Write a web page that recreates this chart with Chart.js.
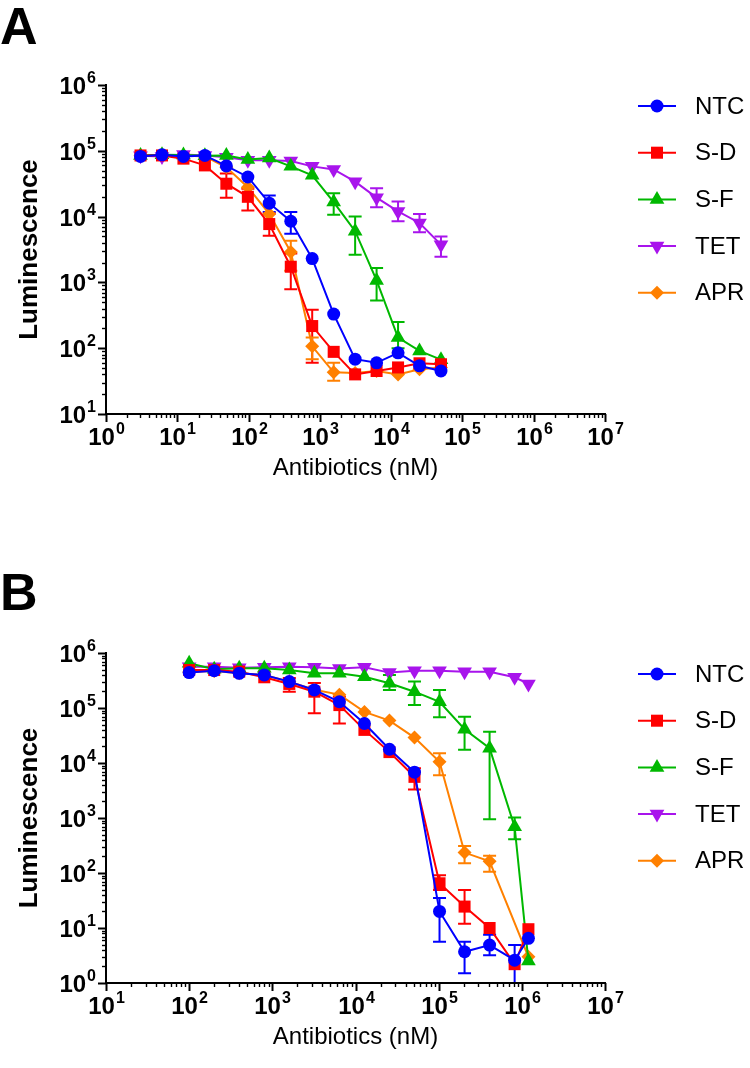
<!DOCTYPE html>
<html>
<head>
<meta charset="utf-8">
<script src="https://cdn.jsdelivr.net/npm/chart.js@4.4.1/dist/chart.umd.min.js"></script>
<style>
  body { margin: 0; background: #fff; width: 750px; height: 1068px; position: relative; overflow: hidden; }
  .panel { position: absolute; left: 0; width: 750px; height: 534px; }
  .tag { position: absolute; left: 0; font: bold 52px "Liberation Sans", Arial, sans-serif; line-height: 1; z-index: 2; }
</style>
</head>
<body>
<div class="tag" style="top:0">A</div>
<div class="tag" style="top:566px">B</div>
<div class="panel" style="top:0"><canvas id="chartA" width="750" height="534"></canvas></div>
<div class="panel" style="top:534px"><canvas id="chartB" width="750" height="534"></canvas></div>
<script>
// ---- data ----
const seriesNames = ['NTC', 'S-D', 'S-F', 'TET', 'APR'];

// panel A, antibiotic concentration (nM)
const concA = [3.05, 6.1, 12.2, 24.4, 48.8, 97.7, 195, 391, 781, 1563, 3125, 6250, 12500, 25000, 50000];
const ntcA = [82000, 87000, 82000, 85000, 59000, 40000, 16000, 8500, 2300, 330, 68, 60, 85, 54, 45];
const sdA  = [85000, 85000, 76000, 60000, 31600, 20000, 7700, 1730, 217, 88, 40, 45, 51, 59, 57];
const sfA  = [85000, 87000, 86000, 84000, 85000, 73500, 77500, 58000, 42400, 16600, 6000, 1070, 145, 91, 67];
const tetA = [84000, 82000, 88000, 85000, 80000, 72000, 72000, 70000, 58000, 52000, 34000, 19400, 12000, 8000, 3750];
const aprA = [85000, 87000, 85000, 82000, 56000, 28000, 11000, 2900, 107, 43, 42, 45, 40, 48, 51];
// error bar ends [low, high], null = no visible bar
const ntcErrA = [null, null, null, null, null, null, [11700, 21000], [5500, 11700], null, null, null, null, null, null, null];
const sdErrA  = [null, null, null, null, [19400, 45000], [12400, 26500], [5100, 11100], [790, 2760], [60, 385], null, null, null, null, null, null];
const sfErrA  = [null, null, null, null, null, null, null, null, null, [10700, 22700], [2640, 10000], [530, 1660], [100, 250], null, null];
const tetErrA = [null, null, null, null, null, null, null, null, null, null, null, [13900, 27000], [8500, 17000], [5800, 11000], [2450, 5000]];
const aprErrA = [null, null, null, null, null, null, null, [1500, 4300], [68, 145], [32, 60], null, null, null, null, null];

// panel B
const concB = [100, 200, 400, 800, 1600, 3200, 6400, 12800, 25600, 51200, 102400, 204800, 409600, 819200, 1200000];
const ntcB = [440000, 476000, 427000, 398000, 302000, 213000, 130000, 52300, 17800, 6800, 20, 3.7, 4.9, 2.6, 6.5];
const sdB  = [490000, 490000, 458000, 362000, 274000, 198000, 113000, 40000, 15800, 5600, 65, 24.5, 10, 2.2, 9.5];
const sfB  = [650000, 505000, 527000, 527000, 490000, 427000, 427000, 371000, 281000, 198000, 130000, 41000, 18600, 690, 2.5];
const tetB = [560000, 560000, 540000, 550000, 564000, 550000, 520000, 550000, 440000, 476000, 476000, 458000, 458000, 362000, 274000];
const aprB = [450000, 470000, 430000, 400000, 300000, 215000, 175000, 85000, 59000, 29000, 10500, 235, 163, null, 3];
const ntcErrB = [null, null, null, null, null, null, null, null, null, null, [5.6, 35], [1.5, 5.6], [3.2, 7.5], [1, 4.9], null];
const sdErrB  = [null, null, null, null, [198000, 350000], [80000, 285000], [52000, 160000], null, null, [3300, 8000], [49, 91], [12, 49], null, null, null];
const sfErrB  = [null, null, null, null, null, null, null, null, [213000, 398000], [113000, 302000], [68000, 212000], [17400, 69000], [950, 37000], [410, 1020], null];
const tetErrB = [null, null, null, null, null, null, null, null, null, null, null, null, null, null, null];
const aprErrB = [null, null, null, null, null, null, null, null, null, null, [6000, 15000], [150, 310], [105, 205], null, null];

// ---- styles ----
const FONT = '"Liberation Sans", Arial, Helvetica, sans-serif';
const colors = ['#0000FF', '#FF0000', '#00B800', '#A814EC', '#FF8000'];
const shapes = ['circle', 'rect', 'triangle', 'triangle', 'rectRot'];
const radii = [6.5, 8.5, 8.5, 8.5, 7];
const rotations = [0, 0, 0, 180, 0];

function drawMarker(ctx, k, x, y) {
  ctx.fillStyle = colors[k];
  ctx.strokeStyle = colors[k];
  Chart.helpers.drawPoint(ctx, { pointStyle: shapes[k], rotation: rotations[k], radius: radii[k], borderWidth: 0 }, x, y);
}

function drawPow(ctx, exp, x, y, align) {
  // "10" with raised exponent; y is the vertical middle of "10"
  ctx.font = 'bold 24px ' + FONT;
  const wb = ctx.measureText('10').width;
  ctx.font = 'bold 16px ' + FONT;
  const ws = ctx.measureText(String(exp)).width;
  const total = wb + 1 + ws;
  let left = align === 'right' ? x - total : x - total / 2;
  ctx.fillStyle = '#000';
  ctx.textAlign = 'left';
  ctx.textBaseline = 'alphabetic';
  ctx.font = 'bold 24px ' + FONT;
  ctx.fillText('10', left, y + 8.5);
  ctx.font = 'bold 16px ' + FONT;
  ctx.fillText(String(exp), left + wb + 1, y - 2.5);
}

const errorBars = {
  id: 'errorBars',
  beforeDatasetsDraw(chart) {
    const ctx = chart.ctx, ys = chart.scales.y, xs = chart.scales.x;
    ctx.save();
    ctx.lineWidth = 2;
    chart.data.datasets.forEach((ds, k) => {
      ds.errors.forEach((e, i) => {
        if (!e) return;
        const x = xs.getPixelForValue(ds.data[i].x);
        const yl = ys.getPixelForValue(Math.max(e[0], ys.min));
        const yh = ys.getPixelForValue(e[1]);
        ctx.strokeStyle = colors[k];
        ctx.beginPath();
        ctx.moveTo(x, yl); ctx.lineTo(x, yh);
        ctx.moveTo(x - 6.5, yh); ctx.lineTo(x + 6.5, yh);
        if (e[0] > ys.min) { ctx.moveTo(x - 6.5, yl); ctx.lineTo(x + 6.5, yl); }
        ctx.stroke();
      });
    });
    ctx.restore();
  }
};

const prismAxes = {
  id: 'prismAxes',
  afterDraw(chart) {
    const ctx = chart.ctx, xs = chart.scales.x, ys = chart.scales.y, ca = chart.chartArea;
    ctx.save();
    ctx.strokeStyle = '#000';
    ctx.lineWidth = 2;
    ctx.beginPath();
    ctx.moveTo(ca.left, ca.top - 1);
    ctx.lineTo(ca.left, ca.bottom);
    ctx.lineTo(ca.right + 1, ca.bottom);
    ctx.stroke();

    // y ticks
    const ey0 = Math.round(Math.log10(ys.min)), ey1 = Math.round(Math.log10(ys.max));
    for (let e = ey0; e <= ey1; e++) {
      for (let m = 1; m <= 9; m++) {
        if (e === ey1 && m > 1) break;
        const py = Math.round(ys.getPixelForValue(m * Math.pow(10, e))) + 0.5;
        const len = m === 1 ? 8 : 4;
        ctx.lineWidth = m === 1 ? 2 : 1.4;
        ctx.beginPath(); ctx.moveTo(ca.left, py); ctx.lineTo(ca.left - len, py); ctx.stroke();
        if (m === 1) drawPow(ctx, e, ca.left - 10, py, 'right');
      }
    }
    // x ticks
    const ex0 = Math.round(Math.log10(xs.min)), ex1 = Math.round(Math.log10(xs.max));
    for (let e = ex0; e <= ex1; e++) {
      for (let m = 1; m <= 9; m++) {
        if (e === ex1 && m > 1) break;
        const px = Math.round(xs.getPixelForValue(m * Math.pow(10, e))) + 0.5;
        const len = m === 1 ? 8 : 4;
        ctx.lineWidth = m === 1 ? 2 : 1.4;
        ctx.beginPath(); ctx.moveTo(px, ca.bottom); ctx.lineTo(px, ca.bottom + len); ctx.stroke();
        if (m === 1) drawPow(ctx, e, px, ca.bottom + 22, 'center');
      }
    }

    // axis titles
    ctx.fillStyle = '#000';
    ctx.textAlign = 'center';
    ctx.textBaseline = 'middle';
    ctx.font = '24px ' + FONT;
    ctx.fillText('Antibiotics (nM)', (ca.left + ca.right) / 2, ca.bottom + 54);
    ctx.save();
    ctx.translate(30, (ca.top + ca.bottom) / 2);
    ctx.rotate(-Math.PI / 2);
    ctx.font = 'bold 26px ' + FONT;
    ctx.fillText('Luminescence', 0, 0);
    ctx.restore();

    // legend
    chart.data.datasets.forEach((ds, k) => {
      const ly = ca.top + 21 + k * 46.7;
      ctx.strokeStyle = colors[k];
      ctx.lineWidth = 2;
      ctx.beginPath(); ctx.moveTo(638, ly); ctx.lineTo(676, ly); ctx.stroke();
      drawMarker(ctx, k, 657, ly);
      ctx.fillStyle = '#000';
      ctx.font = '24px ' + FONT;
      ctx.textAlign = 'left';
      ctx.textBaseline = 'middle';
      ctx.fillText(ds.label, 695, ly + 1);
    });
    ctx.restore();
  }
};

function buildChart(id, conc, values, errors, xRange, yRange, padding) {
  const datasets = values.map((vals, k) => ({
    label: seriesNames[k],
    data: conc.map((c, i) => ({ x: c, y: vals[i] })),
    errors: errors[k],
    borderColor: colors[k],
    backgroundColor: colors[k],
    pointBackgroundColor: colors[k],
    pointBorderColor: colors[k],
    pointBorderWidth: 0,
    pointStyle: shapes[k],
    pointRadius: radii[k],
    pointRotation: rotations[k],
    borderWidth: 2,
    tension: 0,
    spanGaps: true,
    clip: false
  }));
  return new Chart(document.getElementById(id), {
    type: 'line',
    data: { datasets },
    plugins: [errorBars, prismAxes],
    options: {
      responsive: false,
      animation: false,
      devicePixelRatio: 1,
      events: [],
      layout: { padding },
      plugins: { legend: { display: false }, title: { display: false }, tooltip: { enabled: false } },
      scales: {
        x: { type: 'logarithmic', min: xRange[0], max: xRange[1], display: false },
        y: { type: 'logarithmic', min: yRange[0], max: yRange[1], display: false }
      }
    }
  });
}

buildChart('chartA', concA,
  [ntcA, sdA, sfA, tetA, aprA],
  [ntcErrA, sdErrA, sfErrA, tetErrA, aprErrA],
  [1, 1e7], [10, 1e6],
  { left: 106, right: 145, top: 85, bottom: 120 });

buildChart('chartB', concB,
  [ntcB, sdB, sfB, tetB, aprB],
  [ntcErrB, sdErrB, sfErrB, tetErrB, aprErrB],
  [10, 1e7], [1, 1e6],
  { left: 106, right: 145, top: 119, bottom: 85 });
</script>
</body>
</html>
